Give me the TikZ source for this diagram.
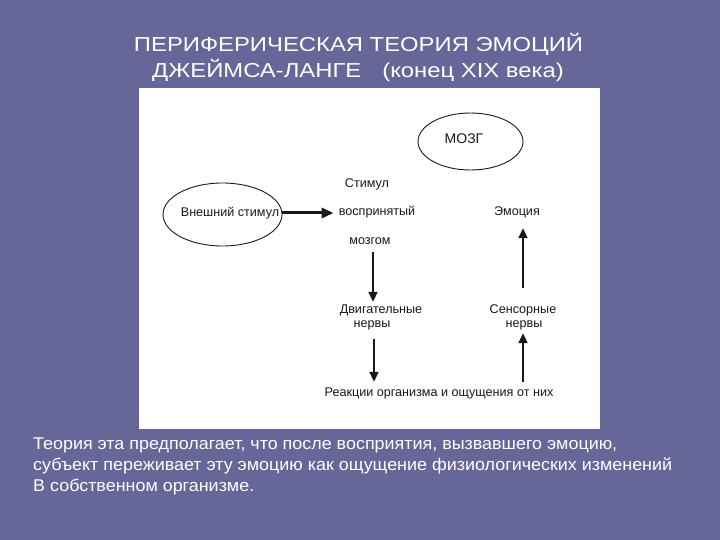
\documentclass[tikz,border=0pt]{standalone}
\usepackage{fontspec}
\setmainfont{Liberation Sans}
\newfontfamily\titlefont[FakeStretch=1.18]{Liberation Sans}
\newfontfamily\bodyfont[FakeStretch=1.054]{Liberation Sans}
\usetikzlibrary{arrows.meta,shapes.geometric}
\definecolor{bgc}{RGB}{102,102,153}
\definecolor{ink}{RGB}{25,25,25}
\begin{document}
\begin{tikzpicture}[x=1pt,y=-1pt,
  title/.style={text=white,inner sep=0pt,anchor=base,font=\titlefont\fontsize{20.2}{24}\selectfont},
  body/.style={text=white,inner sep=0pt,anchor=base west,font=\bodyfont\fontsize{17}{20}\selectfont},
  lbl/.style={text=ink,inner sep=0pt,text height=9pt,text depth=3pt,font=\fontsize{12.6}{14}\selectfont},
  oval/.style={draw=ink,line width=0.9pt,ellipse,inner sep=0pt},
  arr/.style={draw=ink,line width=2pt,-{Triangle[length=10pt,width=9pt]}},
  harr/.style={draw=ink,line width=3pt,-{Triangle[length=12pt,width=10pt]}}]
\fill[bgc] (0,0) rectangle (720,540);
\useasboundingbox (0,0) rectangle (720,540);
\fill[white] (139,88.5) rectangle (600,428.5);
% title
\node[title] (t1) at (358.5,51.7) {ПЕРИФЕРИЧЕСКАЯ ТЕОРИЯ ЭМОЦИЙ};
\node[title] (t2) at (358,77.7) {ДЖЕЙМСА-ЛАНГЕ\hspace{21pt}(конец XIX века)};
% ellipses
\node[oval,minimum width=119pt,minimum height=63pt] (ext) at (222.5,214.5) {};
\node[lbl] (extt) at (230,213) {Внешний стимул};
\node[oval,minimum width=105pt,minimum height=57pt] (brain) at (470.5,141.5) {};
\node[lbl,font=\fontsize{14}{16}\selectfont,text height=10pt,text depth=0pt] (braint) at (464,139) {МОЗГ};
% labels
\node[lbl] (stim1) at (367,185) {Стимул};
\node[lbl] (stim2) at (377,212) {воспринятый};
\node[lbl] (stim3) at (370,241) {мозгом};
\node[lbl] (motor1) at (381,310) {Двигательные};
\node[lbl] (motor2) at (372,324) {нервы};
\node[lbl] (react) at (439,393) {Реакции организма и ощущения от них};
\node[lbl] (sens1) at (523,310) {Сенсорные};
\node[lbl] (sens2) at (524,324) {нервы};
\node[lbl] (emo) at (517,212) {Эмоция};
% arrows
\draw[harr,shorten >=5pt] (ext.east |- extt) -- (extt -| stim2.west);
\draw[arr,shorten <=5pt,shorten >=2pt] ([xshift=3pt]stim3.south) -- ([xshift=3pt]stim3.south |- motor1.north);
\draw[arr,shorten <=9pt,shorten >=5pt] ([xshift=2pt]motor2.south) -- ([xshift=2pt]motor2.south |- react.north);
\draw[arr,shorten <=5pt,shorten >=3pt] ([xshift=-1pt]sens2.south |- react.north) -- ([xshift=-1pt]sens2.south);
\draw[arr,shorten <=16pt,shorten >=10pt] (sens1.north) -- (sens1.north |- emo.south);
% body text
\node[body] (b1) at (33,449.5) {Теория эта предполагает, что после восприятия, вызвавшего эмоцию,};
\node[body] (b2) at (33,470.8) {субъект переживает эту эмоцию как ощущение физиологических изменений};
\node[body] (b3) at (33,491.7) {В собственном организме.};
\end{tikzpicture}
\end{document}
